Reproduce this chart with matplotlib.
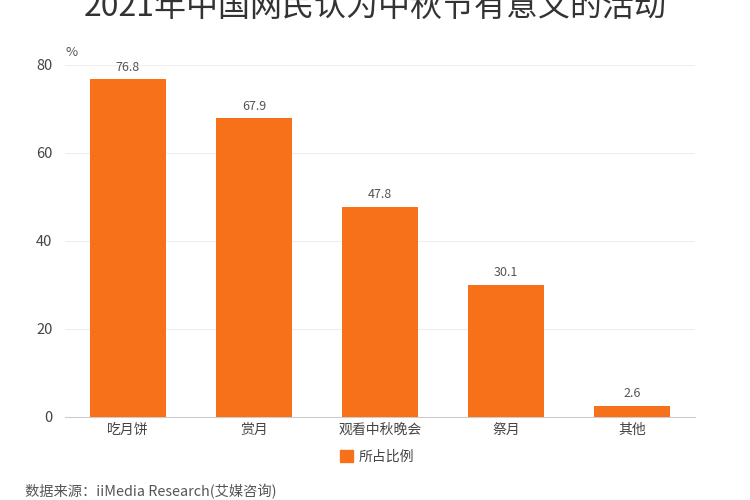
import matplotlib
matplotlib.use("Agg")
import matplotlib.pyplot as plt
from matplotlib.patches import Patch

plt.rcParams['font.family'] = ['Noto Sans CJK SC', 'DejaVu Sans']

categories = ["吃月饼", "赏月", "观看中秋晚会", "祭月", "其他"]
values = [76.8, 67.9, 47.8, 30.1, 2.6]
yticks = [0, 20, 40, 60, 80]
title = "2021年中国网民认为中秋节有意义的活动"
legend_label = "所占比例"
source = "数据来源：iiMedia Research(艾媒咨询)"

bar_color = "#F7711A"
text_color = "#444444"

fig = plt.figure(figsize=(7.5, 5), dpi=100)
ax = fig.add_axes([65/750, 83/500, 630/750, 352/500])

x = list(range(len(categories)))
bars = ax.bar(x, values, width=0.6, color=bar_color, zorder=3)
for xi, v in zip(x, values):
    ax.text(xi, v + 1.2, f"{v}", ha="center", va="bottom", fontsize=9, color="#555555")

ax.set_xlim(-0.5, len(categories) - 0.5)
ax.set_ylim(0, 80)
ax.set_yticks(yticks)
ax.set_xticks(x)
ax.set_xticklabels(categories, fontsize=10, color=text_color)
ax.tick_params(axis='y', labelsize=10.5, colors=text_color, length=0, pad=9)
ax.tick_params(axis='x', length=0, pad=4)
ax.grid(axis='y', color="#EEEEEE", linewidth=0.8, zorder=0)
for s in ["top", "right", "left"]:
    ax.spines[s].set_visible(False)
ax.spines["bottom"].set_color("#CCCCCC")

fig.text(66/750, 1 - 53/500, "%", fontsize=9.5, color="#555555", ha="left", va="center")

fig.text(0.5, 1 - 16/500, title, fontsize=23, color="#333333", ha="center", va="baseline")

leg = fig.legend(handles=[Patch(facecolor=bar_color, edgecolor=bar_color)], labels=[legend_label],
                 loc="center", bbox_to_anchor=(377/750, 1 - 457/500), frameon=False,
                 fontsize=10, handlelength=0.9, handleheight=0.9, handletextpad=0.4)
for t in leg.get_texts():
    t.set_color(text_color)

fig.text(25/750, 1 - 492/500, source, fontsize=10.3, color="#555555", ha="left", va="center")

fig.savefig("out.png", dpi=100, facecolor="white")
